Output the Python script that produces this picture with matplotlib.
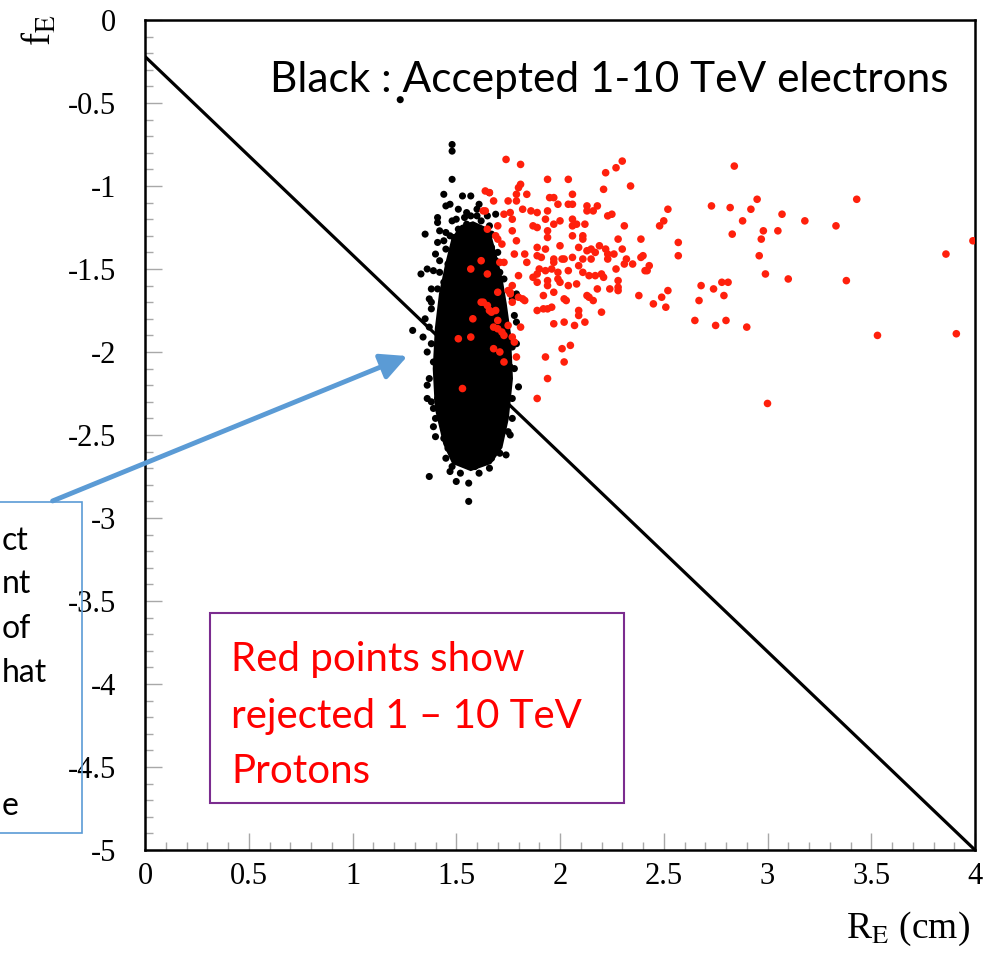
import matplotlib
matplotlib.use("Agg")
import matplotlib.pyplot as plt
from matplotlib.ticker import MultipleLocator
from matplotlib.patches import Rectangle, FancyArrowPatch

plt.rcParams['axes.unicode_minus'] = False
plt.rcParams['mathtext.fontset'] = 'stix'

# cut line
line_x = [0, 4]
line_y = [-0.22, -5]

# dense core of the accepted electrons (outline of the solid black region)
core_x = [1.58, 1.65, 1.68, 1.71, 1.73, 1.75, 1.76, 1.74, 1.71, 1.66,
          1.57, 1.49, 1.45, 1.41, 1.40, 1.41, 1.43, 1.46, 1.49, 1.53]
core_y = [-1.23, -1.27, -1.41, -1.56, -1.71, -1.89, -2.16, -2.40, -2.57, -2.66,
          -2.70, -2.66, -2.55, -2.34, -2.10, -1.86, -1.65, -1.47, -1.32, -1.25]

# accepted electrons around the core
black_x = [1.23, 1.48, 1.48, 1.48, 1.44, 1.45, 1.53, 1.57, 1.66, 1.65, 1.60, 1.57, 1.54,
           1.41, 1.41, 1.35, 1.42, 1.45, 1.47, 1.51, 1.53, 1.58, 1.61, 1.66, 1.67, 1.41,
           1.40, 1.49, 1.52, 1.54, 1.60, 1.63, 1.67, 1.33, 1.36, 1.39, 1.42, 1.46, 1.48,
           1.53, 1.57, 1.61, 1.65, 1.70, 1.71, 1.70, 1.37, 1.38, 1.41, 1.44, 1.79, 1.29,
           1.34, 1.36, 1.39, 1.41, 1.36, 1.41, 1.40, 1.44, 1.37, 1.47, 1.50, 1.56, 1.56,
           1.61, 1.67, 1.67, 1.75, 1.71, 1.80, 1.74, 1.74, 1.76, 1.79, 1.74, 1.48, 1.53,
           1.59, 1.63, 1.58, 1.46, 1.43, 1.39, 1.42, 1.44, 1.77, 1.74,
           1.47, 1.51, 1.61, 1.69, 1.48, 1.55, 1.62, 1.49, 1.57, 1.64, 1.45, 1.69, 1.42,
           1.38, 1.35, 1.38, 1.37, 1.40, 1.45, 1.52, 1.66, 1.71, 1.77, 1.77, 1.77, 1.73,
           1.38, 1.37, 1.38, 1.39, 1.36, 1.78, 1.79, 1.78, 1.76, 1.74, 1.50, 1.55, 1.60,
           1.44, 1.62]
black_y = [-0.48, -0.75, -0.79, -0.96, -1.05, -1.12, -1.06, -1.06, -1.04, -1.18, -1.18, -1.18, -1.19,
           -1.19, -1.22, -1.29, -1.27, -1.28, -1.30, -1.26, -1.29, -1.29, -1.26, -1.24, -1.29, -1.34,
           -1.41, -1.36, -1.35, -1.38, -1.34, -1.33, -1.37, -1.53, -1.50, -1.51, -1.52, -1.47, -1.44,
           -1.43, -1.42, -1.42, -1.41, -1.40, -1.52, -1.46, -1.68, -1.74, -1.62, -1.58, -1.65, -1.87,
           -1.91, -2.00, -2.06, -2.12, -2.28, -2.28, -2.51, -2.52, -2.75, -2.72, -2.78, -2.79, -2.90,
           -2.73, -2.64, -2.58, -2.48, -2.45, -2.21, -2.27, -2.15, -2.09, -1.82, -2.04, -2.69, -2.66,
           -2.69, -2.63, -2.63, -2.58, -2.40, -2.34, -2.21, -1.98, -1.97, -2.16,
           -1.11, -1.14, -1.11, -1.17, -1.21, -1.23, -1.21, -1.31, -1.32, -1.29, -1.38, -1.45, -1.45,
           -1.62, -1.80, -1.95, -2.16, -2.40, -2.64, -2.73, -2.70, -2.61, -2.40, -2.28, -1.68, -1.56,
           -1.70, -1.85, -2.30, -2.45, -2.20, -1.78, -1.95, -2.10, -2.50, -2.62, -1.20, -1.16, -1.14,
           -1.33, -1.34]

# rejected protons
red_x = [1.74, 1.81, 2.30, 2.27, 2.22, 1.94, 2.04, 1.81, 1.80, 2.34, 2.21, 1.64, 1.66, 1.79,
         1.84, 2.06, 1.95, 1.97, 1.68, 1.75, 1.79, 1.99, 2.04, 2.06, 2.13, 2.18, 2.13, 2.16,
         1.82, 1.86, 1.89, 1.94, 2.52, 1.64, 1.76, 2.23, 2.25, 1.73, 1.77, 1.93, 2.00, 1.97,
         2.06, 2.08, 2.06, 2.12, 2.31, 2.50, 2.48, 1.87, 1.89, 1.70, 1.65, 1.77, 1.94, 2.06,
         2.11, 2.11, 1.94, 1.69, 1.70, 2.28, 2.39, 1.79, 2.19, 1.72, 2.00, 1.89, 2.09, 2.13,
         2.15, 2.30, 1.93, 2.17, 2.22, 2.23, 2.26, 1.78, 1.83, 1.89, 1.91, 1.97, 2.01, 2.02,
         2.06, 2.11, 2.15, 2.23, 2.32, 2.39, 1.97, 1.84, 1.71, 1.73, 2.31, 2.35, 2.09, 1.90,
         1.96, 2.27, 2.43, 2.42, 1.87, 1.89, 1.93, 1.99, 2.04, 2.11, 2.14, 2.17, 2.20, 2.21,
         1.80, 1.89, 1.94, 1.99, 2.00, 1.94, 2.04, 2.08, 2.18, 2.24, 2.28, 2.28, 2.38, 2.49,
         2.52, 1.92, 2.02, 2.13, 2.14, 1.77, 1.76,
         1.63, 1.65, 1.67, 1.69, 1.70, 1.75, 1.76, 1.77, 1.80, 1.82, 1.83, 1.89, 1.92, 1.94,
         1.96, 1.97, 2.03, 2.16, 2.28, 2.45, 2.51, 2.09, 2.09, 2.12, 2.20, 1.97, 2.02, 2.07,
         1.75, 1.81, 1.68, 1.70, 1.72, 1.73, 1.77, 1.78, 1.70, 1.68, 1.71, 1.73, 1.79, 2.01,
         2.05, 1.93, 2.02, 1.94, 1.89,
         1.57, 1.62, 1.65, 1.58, 1.51, 1.57, 1.53, 1.62, 1.66, 1.63,
         2.84, 2.95, 3.43, 2.73, 2.82, 2.92, 3.07, 2.88, 3.18, 3.33, 2.83, 2.98, 3.05, 2.97,
         2.57, 3.99, 3.86, 2.40, 2.57, 2.96, 2.41, 2.99, 3.10, 3.38, 2.68, 2.78, 2.81, 2.74,
         2.79, 2.67, 2.65, 2.75, 2.80, 2.90, 3.53, 3.91, 3.00]
red_y = [-0.84, -0.87, -0.85, -0.89, -0.92, -0.96, -0.96, -0.99, -1.01, -1.00, -1.02, -1.03, -1.04, -1.05,
         -1.05, -1.05, -1.07, -1.07, -1.09, -1.09, -1.09, -1.11, -1.11, -1.11, -1.12, -1.12, -1.15, -1.15,
         -1.14, -1.15, -1.16, -1.15, -1.14, -1.15, -1.16, -1.18, -1.17, -1.17, -1.20, -1.20, -1.21, -1.23,
         -1.20, -1.23, -1.24, -1.23, -1.24, -1.21, -1.24, -1.24, -1.25, -1.24, -1.26, -1.27, -1.27, -1.30,
         -1.30, -1.32, -1.31, -1.30, -1.32, -1.32, -1.32, -1.33, -1.36, -1.35, -1.36, -1.37, -1.37, -1.39,
         -1.38, -1.38, -1.38, -1.40, -1.38, -1.41, -1.41, -1.41, -1.41, -1.42, -1.43, -1.44, -1.44, -1.44,
         -1.43, -1.44, -1.44, -1.44, -1.44, -1.43, -1.46, -1.46, -1.46, -1.46, -1.47, -1.47, -1.48, -1.50,
         -1.50, -1.50, -1.48, -1.51, -1.55, -1.53, -1.51, -1.52, -1.51, -1.52, -1.54, -1.54, -1.53, -1.55,
         -1.54, -1.58, -1.57, -1.56, -1.58, -1.60, -1.60, -1.59, -1.62, -1.62, -1.57, -1.61, -1.66, -1.67,
         -1.63, -1.66, -1.68, -1.66, -1.67, -1.60, -1.64,
         -1.70, -1.72, -1.76, -1.75, -1.64, -1.63, -1.65, -1.70, -1.67, -1.68, -1.69, -1.75, -1.74, -1.74,
         -1.73, -1.64, -1.69, -1.69, -1.63, -1.71, -1.73, -1.75, -1.78, -1.82, -1.76, -1.83, -1.82, -1.84,
         -1.84, -1.85, -1.85, -1.86, -1.88, -1.90, -1.91, -1.94, -1.81, -1.98, -2.00, -2.06, -2.03, -1.98,
         -1.96, -2.03, -2.06, -2.16, -2.28,
         -1.50, -1.45, -1.53, -1.80, -1.92, -1.91, -2.22, -1.70, -1.75, -1.15,
         -0.88, -1.08, -1.08, -1.12, -1.13, -1.14, -1.17, -1.21, -1.21, -1.24, -1.29, -1.27, -1.27, -1.32,
         -1.34, -1.33, -1.41, -1.42, -1.42, -1.42, -1.51, -1.53, -1.56, -1.57, -1.60, -1.58, -1.58, -1.62,
         -1.66, -1.69, -1.81, -1.84, -1.81, -1.85, -1.90, -1.89, -2.31]

x_ticks = [0, 0.5, 1, 1.5, 2, 2.5, 3, 3.5, 4]
x_labels = ['0', '0.5', '1', '1.5', '2', '2.5', '3', '3.5', '4']
y_ticks = [0, -0.5, -1, -1.5, -2, -2.5, -3, -3.5, -4, -4.5, -5]
y_labels = ['0', '-0.5', '-1', '-1.5', '-2', '-2.5', '-3', '-3.5', '-4', '-4.5', '-5']

W, H = 990, 958
fig = plt.figure(figsize=(W / 100, H / 100), dpi=100)
ax = fig.add_axes([145 / W, 1 - 850 / H, 830 / W, 830 / H])

ax.plot(line_x, line_y, color='black', linewidth=2.3, zorder=2)
ax.fill(core_x, core_y, color='black', linewidth=4, zorder=3)
ax.scatter(black_x, black_y, s=26, color='black', edgecolors='none', zorder=3)
ax.scatter(red_x, red_y, s=30, color='#ff200c', edgecolors='none', zorder=4)

ax.set_xlim(0, 4)
ax.set_ylim(-5, 0)
ax.set_xticks(x_ticks)
ax.set_xticklabels(x_labels)
ax.set_yticks(y_ticks)
ax.set_yticklabels(y_labels)
ax.xaxis.set_minor_locator(MultipleLocator(0.1))
ax.yaxis.set_minor_locator(MultipleLocator(0.1))
ax.tick_params(which='both', direction='in', color='#a8a8a8', width=1,
               top=False, right=False, labelsize=22)
ax.tick_params(which='major', length=12)
ax.tick_params(which='minor', length=6)
ax.tick_params(axis='y', pad=21)
ax.tick_params(axis='x', pad=9)
for lab in ax.get_xticklabels() + ax.get_yticklabels():
    lab.set_fontfamily('Liberation Serif')
for sp in ax.spines.values():
    sp.set_linewidth(1.8)

# axis titles
fig.text(970 / W, 1 - 938 / H, r'R$_{\mathrm{E}}$ (cm)', ha='right', va='baseline',
         fontsize=27, family='Liberation Serif')
fig.text(60 / W, 1 - 30 / H, r'f$_{\mathrm{E}}$', ha='right', va='center', rotation=90,
         fontsize=28, family='Liberation Serif')

# annotations
fig.text(270 / W, 1 - 92 / H, 'Black : Accepted 1-10 TeV electrons', ha='left', va='baseline',
         fontsize=30.5, family='Lato')

fig.patches.append(Rectangle((210 / W, 1 - 803 / H), 414 / W, 190 / H, transform=fig.transFigure,
                             fill=False, edgecolor='#7b2c8f', linewidth=1.5))
for txt, base in [('Red points show', 671), ('rejected 1 \u2013 10 TeV', 728), ('Protons', 783)]:
    fig.text(231 / W, 1 - base / H, txt, ha='left', va='baseline', color='#ff0000',
             fontsize=29, family='Lato')

# left callout box (only the right end of its lines is visible)
fig.patches.append(Rectangle((-5 / W, 1 - 833 / H), 87 / W, 331 / H, transform=fig.transFigure,
                             fill=False, edgecolor='#5b9bd5', linewidth=1.2))
for txt, base in [('ct', 550), ('nt', 593), ('of', 638), ('hat', 682), ('e', 815)]:
    fig.text(2 / W, 1 - base / H, txt, ha='left', va='baseline', color='black',
             fontsize=23, family='Lato')

fig.add_artist(FancyArrowPatch(
    (50 / W, 1 - 502 / H), (410 / W, 1 - 355 / H), transform=fig.transFigure,
    arrowstyle='-|>', mutation_scale=40, linewidth=3.5, color='#5b9bd5'))

fig.savefig('out.png', dpi=100)
